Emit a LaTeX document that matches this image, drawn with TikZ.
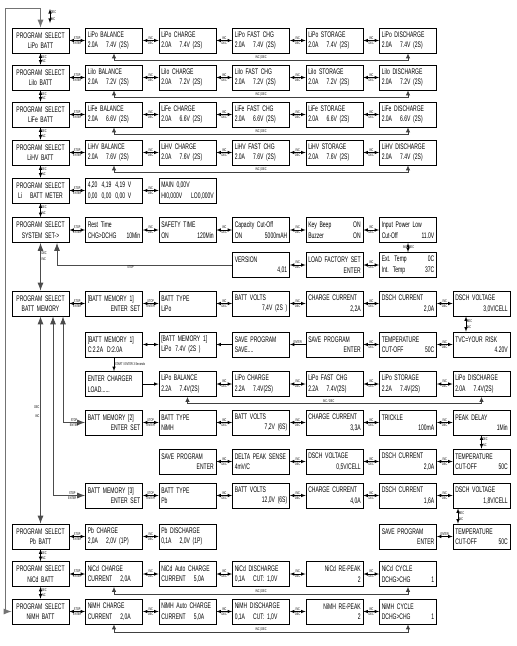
\documentclass[tikz,border=0pt]{standalone}
\usepackage{fontspec}
\setmainfont{Liberation Sans}[FakeStretch=0.62]
\usetikzlibrary{arrows, arrows.meta}

\begin{document}
\begin{tikzpicture}[x=1pt, y=-1pt,
		>=latex,   % Pfeilspitzen
		lcd/.style={draw, line width=0.75pt, minimum width=57pt, minimum height=25pt, text width=52.5pt, inner xsep=2.25pt, inner ysep=1pt, align=left, font=\fontsize{8.1}{10.5}\selectfont},
		sel/.style={lcd, align=center},
		hop/.style={<->, line width=0.6pt},
		tag/.style={font=\fontsize{3.9}{4}\selectfont, inner sep=0.7pt},
		fb/.style={<->, line width=0.8pt, draw=black!75, >={Latex[length=5pt,width=4.5pt]}},
		big/.style={line width=0.8pt, draw=black!70, >={Latex[length=8pt,width=6pt]}}]
	\useasboundingbox (0,0) rectangle (517,646);
	% Li-Akkus
	\foreach \rn/\nm/\vc/\vd/\yy in {lipo/LiPo/7.4/7.4/40.5, liio/LiIo/7.2/7.2/77.5, life/LiFe/6.6/6.6/114.5, lihv/LiHV/7.6/7.4/152.5} {
		\node[sel] (\rn0) at (40.5,\yy) {PROGRAM SELECT\\\nm\ BATT};
		\node[lcd] (\rn1) at (114,\yy) {\nm\ BALANCE\\2.0A\quad\vc V (2S)};
		\node[lcd] (\rn2) at (187.5,\yy) {\nm\ CHARGE\\2.0A\quad\vc V (2S)};
		\node[lcd] (\rn3) at (261,\yy) {\nm\ FAST CHG\\2.0A\quad\vc V (2S)};
		\node[lcd] (\rn4) at (334.5,\yy) {\nm\ STORAGE\\2.0A\quad\vc V (2S)};
		\node[lcd] (\rn5) at (408,\yy) {\nm\ DISCHARGE\\2.0A\quad\vd V (2S)};
		\draw[hop] (\rn0) -- node[tag,above]{STOP} node[tag,below]{ENTER} (\rn1);
		\foreach \a/\b in {1/2,2/3,3/4,4/5}
			\draw[hop] (\rn\a) -- node[tag,above]{INC} node[tag,below]{DEC} (\rn\b);
		\draw[fb] (\rn5.south) -- ++(0,7) -| node[tag,above,pos=.25]{INC\,|\,DEC} (\rn1.south);
	}
	% Spannungsmesser
	\node[sel] (meter0) at (40.5,190.5) {PROGRAM SELECT\\Li\quad BATT METER};
	\node[lcd] (meter1) at (114,190.5) {4,20\enspace 4,19\enspace 4,19 V\\0,00\enspace 0,00\enspace 0,00 V};
	\node[lcd] (meter2) at (187.5,190.5) {MAIN 0,00V\\HI0,000V\hfill LO0,000V};
	\draw[hop] (meter0) -- node[tag,above]{STOP} node[tag,below]{ENTER} (meter1);
	\draw[hop] (meter1) -- node[tag,above]{INC} node[tag,below]{DEC} (meter2);
	% Systemeinstellungen
	\node[sel] (sys0) at (40.5,230) {PROGRAM SELECT\\SYSTEM SET->};
	\node[lcd] (sys1) at (114,230) {Rest Time\\CHG>DCHG\hfill 10Min};
	\node[lcd] (sys2) at (187.5,230) {SAFETY TIME\\ON\hfill 120Min};
	\node[lcd] (sys3) at (261,230) {Capacity Cut-Off\\ON\hfill 5000mAH};
	\node[lcd] (sys4) at (334.5,230) {Key Beep\hfill ON\\Buzzer\hfill ON};
	\node[lcd] (sys5) at (408,230) {Input Power Low\\Cut-Off\hfill 11.0V};
	\node[lcd] (ver) at (261,265) {VERSION\\\hspace*{\fill}4,01};
	\node[lcd] (fact) at (334.5,265) {LOAD FACTORY SET\\\hspace*{\fill}ENTER};
	\node[lcd] (ext) at (408,265) {Ext. Temp\hfill 0C\\Int. Temp\hfill 37C};
	\draw[hop] (sys0) -- node[tag,above]{STOP} node[tag,below]{ENTER} (sys1);
	\foreach \a/\b in {sys1/sys2, sys2/sys3, sys3/sys4, sys4/sys5, ver/fact, fact/ext}
		\draw[hop] (\a) -- node[tag,above]{INC} node[tag,below]{DEC} (\b);
	\draw[hop] (sys5) -- node[tag,left]{INC} node[tag,right]{DEC} (ext);
	\draw[big,->] (ver.west) -| node[tag,below,pos=.29]{STOP} ([xshift=16.5pt]sys0.south);
	% Akkuspeicher 1
	\node[sel] (mem0) at (40.5,303.5) {PROGRAM SELECT\\BATT MEMORY};
	\node[lcd] (mem1) at (114,303.5) {[BATT MEMORY 1]\\\hspace*{\fill}ENTER SET};
	\node[lcd] (mem2) at (187.5,303.5) {BATT TYPE\\LiPo};
	\node[lcd] (mem3) at (261,303.5) {BATT VOLTS\\\hspace*{\fill}7,4V (2S )\hspace*{\fill}};
	\node[lcd] (mem4) at (334.5,303.5) {CHARGE CURRENT\\\hspace*{\fill}2,2A};
	\node[lcd] (mem5) at (408,303.5) {DSCH CURRENT\\\hspace*{\fill}2,0A};
	\node[lcd] (mem6) at (481.5,303.5) {DSCH VOLTAGE\\\hspace*{\fill}3,0V/CELL};
	\node[lcd] (mema1) at (114,344.5) {[BATT MEMORY 1]\\C:2.2A\enspace D:2.0A};
	\node[lcd] (mema2) at (187.5,344.5) {[BATT MEMORY 1]\\LiPo\enspace 7.4V (2S )};
	\node[lcd] (mema3) at (261,344.5) {SAVE PROGRAM\\SAVE....};
	\node[lcd] (mema4) at (334.5,344.5) {SAVE PROGRAM\\\hspace*{\fill}ENTER};
	\node[lcd] (mema5) at (408,344.5) {TEMPERATURE\\CUT-OFF\hfill 50C\hspace*{6pt}};
	\node[lcd] (mema6) at (481.5,344.5) {TVC=YOUR RISK\\\hspace*{\fill}4.20V};
	\node[lcd] (memb1) at (114,384) {ENTER CHARGER\\LOAD......};
	\node[lcd] (memb2) at (187.5,384) {LiPo BALANCE\\2.2A\quad 7.4V(2S)};
	\node[lcd] (memb3) at (261,384) {LiPo CHARGE\\2.2A\quad 7.4V(2S)};
	\node[lcd] (memb4) at (334.5,384) {LiPo FAST CHG\\2.2A\quad 7.4V(2S)};
	\node[lcd] (memb5) at (408,384) {LiPo STORAGE\\2.2A\quad 7.4V(2S)};
	\node[lcd] (memb6) at (481.5,384) {LiPo DISCHARGE\\2.0A\quad 7.4V(2S)};
	\draw[hop] (mem0) -- node[tag,above]{STOP} node[tag,below]{ENTER} (mem1);
	\draw[hop] (mem1) -- node[tag,above]{STOP} node[tag,below]{ENTER} (mem2);
	\foreach \a/\b in {mem2/mem3, mem3/mem4, mem4/mem5, mem5/mem6, mema4/mema5, mema5/mema6, memb2/memb3, memb3/memb4, memb4/memb5, memb5/memb6}
		\draw[hop] (\a) -- node[tag,above]{INC} node[tag,below]{DEC} (\b);
	\draw[hop] ([xshift=-15.5pt]mem6.south) -- node[tag,right,pos=.3]{DEC} node[tag,right,pos=.72]{INC} ([xshift=-15.5pt]mema6.north);
	\draw[hop] (mema1) -- (mema2);
	\draw[hop,->] (mema3) -- (mema2);
	\draw[hop,->] (mema4) -- node[tag,above]{ENTER} (mema3);
	\draw[hop,->] (mema1) -- node[tag,right]{START / ENTER 3 Seconds} (memb1);
	\draw[hop,->] (memb1) -- (memb2);
	\draw[fb] (memb6.south) -- ++(0,7) -| node[tag,above,pos=.26]{INC / DEC} (memb2.south);
	% Akkuspeicher 2
	\node[lcd] (memc1) at (114,422.5) {BATT MEMORY [2]\\\hspace*{\fill}ENTER SET};
	\node[lcd] (memc2) at (187.5,422.5) {BATT TYPE\\NiMH};
	\node[lcd] (memc3) at (261,422.5) {BATT VOLTS\\\hspace*{\fill}7,2V (6S)};
	\node[lcd] (memc4) at (334.5,422.5) {CHARGE CURRENT\\\hspace*{\fill}3,3A};
	\node[lcd] (memc5) at (408,422.5) {TRICKLE\\\hspace*{\fill}100mA\hspace*{\fill}};
	\node[lcd] (memc6) at (481.5,422.5) {PEAK DELAY\\\hspace*{\fill}1Min};
	\node[lcd] (memd2) at (187.5,461.5) {SAVE PROGRAM\\\hspace*{\fill}ENTER};
	\node[lcd] (memd3) at (261,461.5) {DELTA PEAK SENSE\\4mV/C};
	\node[lcd] (memd4) at (334.5,461.5) {DSCH VOLTAGE\\\hspace*{\fill}0,5V/CELL};
	\node[lcd] (memd5) at (408,461.5) {DSCH CURRENT\\\hspace*{\fill}2,0A};
	\node[lcd] (memd6) at (481.5,461.5) {TEMPERATURE\\CUT-OFF\hfill 50C\hspace*{6pt}};
	\draw[hop] (memc1) -- node[tag,above]{STOP} node[tag,below]{ENTER} (memc2);
	\foreach \a/\b in {memc2/memc3, memc3/memc4, memc4/memc5, memc5/memc6, memd2/memd3, memd3/memd4, memd4/memd5, memd5/memd6}
		\draw[hop] (\a) -- node[tag,above]{INC} node[tag,below]{DEC} (\b);
	\draw[hop] (memc6) -- node[tag,right,pos=.3]{DEC} node[tag,right,pos=.72]{INC} (memd6);
	% Akkuspeicher 3
	\node[lcd] (meme1) at (114,495.5) {BATT MEMORY [3]\\\hspace*{\fill}ENTER SET};
	\node[lcd] (meme2) at (187.5,495.5) {BATT TYPE\\Pb};
	\node[lcd] (meme3) at (261,495.5) {BATT VOLTS\\\hspace*{\fill}12,0V (6S)};
	\node[lcd] (meme4) at (334.5,495.5) {CHARGE CURRENT\\\hspace*{\fill}4,0A};
	\node[lcd] (meme5) at (408,495.5) {DSCH CURRENT\\\hspace*{\fill}1,6A};
	\node[lcd] (meme6) at (481.5,495.5) {DSCH VOLTAGE\\\hspace*{\fill}1,8V/CELL};
	\node[lcd] (memf5) at (408,536.5) {SAVE PROGRAM\\\hspace*{\fill}ENTER};
	\node[lcd] (memf6) at (481.5,536.5) {TEMPERATURE\\CUT-OFF\hfill 50C\hspace*{6pt}};
	\draw[hop] (meme1) -- node[tag,above]{STOP} node[tag,below]{ENTER} (meme2);
	\foreach \a/\b in {meme2/meme3, meme3/meme4, meme4/meme5, meme5/meme6}
		\draw[hop] (\a) -- node[tag,above]{INC} node[tag,below]{DEC} (\b);
	\draw[hop] ([xshift=-23.5pt]meme6.south) -- node[tag,right,pos=.3]{DEC} node[tag,right,pos=.72]{INC} ([xshift=-23.5pt]memf6.north);
	\draw[hop] (memf6) -- node[tag,above]{ENTER} (memf5);
	% Pb, NiCd, NiMH
	\node[sel] (pb0) at (40.5,536.5) {PROGRAM SELECT\\Pb BATT};
	\node[lcd] (pb1) at (114,536.5) {Pb CHARGE\\2,0A\quad 2,0V (1P)};
	\node[lcd] (pb2) at (187.5,536.5) {Pb DISCHARGE\\0,1A\quad 2,0V (1P)};
	\draw[hop] (pb0) -- node[tag,above]{STOP} node[tag,below]{ENTER} (pb1);
	\draw[hop] (pb1) -- node[tag,above]{INC} node[tag,below]{DEC} (pb2);
	\foreach \rn/\nm/\yy in {nicd/NiCd/574, nimh/NiMH/611.5} {
		\node[sel] (\rn0) at (40.5,\yy) {PROGRAM SELECT\\\nm\ BATT};
		\node[lcd] (\rn1) at (114,\yy) {\nm\ CHARGE\\CURRENT\quad 2,0A};
		\node[lcd] (\rn2) at (187.5,\yy) {\nm\ Auto CHARGE\\CURRENT\quad 5,0A};
		\node[lcd] (\rn3) at (261,\yy) {\nm\ DISCHARGE\\0,1A\quad CUT: 1,0V};
		\node[lcd] (\rn4) at (334.5,\yy) {\hspace*{\fill}\nm\ RE-PEAK\hspace*{\fill}\\\hspace*{\fill}2\hspace*{6pt}};
		\node[lcd] (\rn5) at (408,\yy) {\nm\ CYCLE\\DCHG>CHG\hfill 1};
		\draw[hop] (\rn0) -- node[tag,above]{STOP} node[tag,below]{ENTER} (\rn1);
		\foreach \a/\b in {1/2,2/3,3/4,4/5}
			\draw[hop] (\rn\a) -- node[tag,above]{INC} node[tag,below]{DEC} (\rn\b);
		\draw[fb] (\rn5.south) -- ++(0,8) -| node[tag,above,pos=.25]{INC\,|\,DEC} (\rn1.south);
	}
	% Senkrechte Pfeile links
	\foreach \a/\b in {lipo0/liio0, liio0/life0, life0/lihv0, lihv0/meter0, meter0/sys0, pb0/nicd0, nicd0/nimh0}
		\draw[hop] (\a) -- node[tag,right,pos=.3]{DEC} node[tag,right,pos=.72]{INC} (\b);
	\draw[big,<->] (sys0) -- node[tag,right,pos=.22]{DEC} node[tag,right,pos=.35]{INC} (mem0);
	\draw[big,<->] (mem0) -- node[tag,left,pos=.44]{DEC} node[tag,left,pos=.48]{INC} (pb0);
	\draw[big,<->] ([xshift=12.5pt]mem0.south) |- node[tag,above,pos=.8]{STOP} node[tag,below,pos=.8]{ENTER} (meme1.west);
	\draw[big,<->] ([xshift=22.5pt]mem0.south) |- node[tag,above,pos=.75]{STOP} node[tag,below,pos=.75]{ENTER} (memc1.west);
	% Ring zurueck nach oben
	\coordinate (wrap) at (5,8);
	\draw[big,<->,draw=black!55] (nimh0.west) -| (wrap) -| (lipo0.north);
	\coordinate (ka) at (50,9);
	\coordinate (kb) at (50,23);
	\draw[hop] (ka) -- node[tag,right,pos=.25]{DEC} node[tag,right,pos=.75]{INC} (kb);
\end{tikzpicture}
\end{document}
